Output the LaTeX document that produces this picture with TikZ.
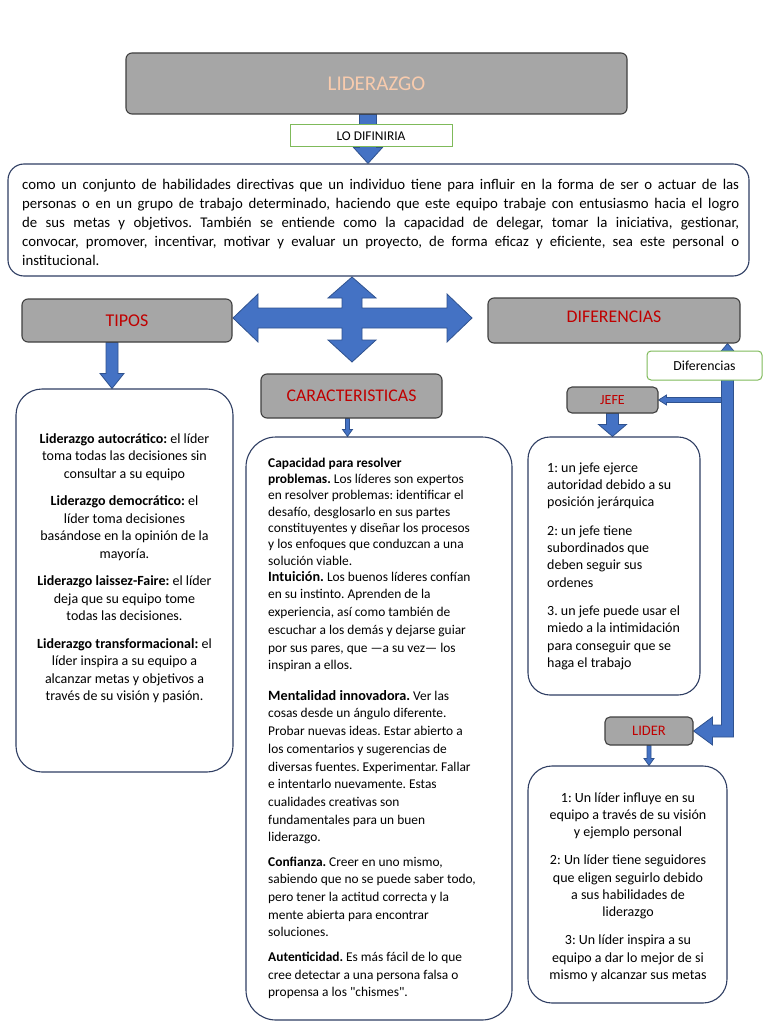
\documentclass[tikz,border=0pt]{standalone}
\usepackage{fontspec}
\setmainfont{Carlito}
\newfontfamily\plainquote{Carlito}[Ligatures=TeXOff]
\usetikzlibrary{calc}

\definecolor{boxgray}{HTML}{A6A6A6}
\definecolor{boxedge}{HTML}{404040}
\definecolor{arrowblue}{HTML}{4472C4}
\definecolor{arrowedge}{HTML}{2F528F}
\definecolor{labelred}{HTML}{C00000}
\definecolor{titlepeach}{HTML}{F8CBAD}
\definecolor{tagedge}{HTML}{7FBA5A}
\definecolor{panelnavy}{HTML}{2F3E63}

\pgfdeclarelayer{back}
\pgfsetlayers{back,main}

\newcommand{\fsz}[2]{\fontsize{#1}{#2}\selectfont}
% block arrows: start, end, half shaft, half head, head length
\newcommand{\blockdown}[5]{%
  \filldraw[blockarrow] let \p1=#1, \p2=#2 in
    (\x1-#3,\y1) -- (\x1-#3,\y2+#5) -- (\x1-#4,\y2+#5) -- (\x1,\y2)
    -- (\x1+#4,\y2+#5) -- (\x1+#3,\y2+#5) -- (\x1+#3,\y1) -- cycle;}
\newcommand{\blockleft}[5]{%
  \filldraw[blockarrow] let \p1=#1, \p2=#2 in
    (\x1,\y1+#3) -- (\x2+#5,\y1+#3) -- (\x2+#5,\y1+#4) -- (\x2,\y1)
    -- (\x2+#5,\y1-#4) -- (\x2+#5,\y1-#3) -- (\x1,\y1-#3) -- cycle;}

\begin{document}
\frenchspacing
\begin{tikzpicture}[x=1pt,y=-1pt,
  graybox/.style={draw=boxedge, fill=boxgray, line width=1.1pt, rounded corners=6pt, inner sep=0pt},
  tagbox/.style={draw=tagedge, fill=white, line width=1pt, inner sep=0pt},
  panel/.style={draw=panelnavy, fill=white, line width=1.1pt, inner sep=0pt},
  blockarrow/.style={fill=arrowblue, draw=arrowedge, line width=0.8pt},
  boxtext/.style={inner sep=0pt, font=\fsz{14}{17.5}},
]
\useasboundingbox (0,0) rectangle (768,1024);

% headings
\node[graybox, minimum width=501pt, minimum height=61pt, font=\fsz{21}{24}, text=titlepeach] (title) at (376.5,83.5) {LIDERAZGO};
\node[tagbox, minimum width=162pt, minimum height=22pt, font=\fsz{13.4}{15}] (defines) at (371,136) {LO DIFINIRIA};
\node[graybox, minimum width=210pt, minimum height=43pt, font=\fsz{18}{20}, text=labelred] (tipos) at (127,320.5) {TIPOS};
\node[graybox, minimum width=252pt, minimum height=45pt, font=\fsz{17.8}{20}, text=labelred, text depth=8pt] (diff) at (614,320.5) {DIFERENCIAS};
\node[graybox, minimum width=181pt, minimum height=44pt, font=\fsz{17.8}{20}, text=labelred] (car) at (351.5,396) {CARACTERISTICAS};
\node[tagbox, rounded corners=4pt, minimum width=115pt, minimum height=29pt, font=\fsz{13.8}{16}] (diffTag) at (704.5,365.5) {Diferencias};
\node[graybox, rounded corners=5pt, minimum width=91pt, minimum height=26pt, font=\fsz{14}{16}, text=labelred] (jefe) at (612.5,400) {JEFE};
\node[graybox, rounded corners=5pt, minimum width=88pt, minimum height=28pt, font=\fsz{14.5}{16}, text=labelred] (lider) at (649,731) {LIDER};

% panels
\node[panel, rounded corners=16pt, minimum width=741pt, minimum height=112pt] (meaning) at (378.5,220) {};
\node[panel, rounded corners=26pt, minimum width=217pt, minimum height=383pt] (tiposPanel) at (124.5,580.5) {};
\node[panel, rounded corners=30pt, minimum width=266pt, minimum height=583pt] (carPanel) at (379,728.5) {};
\node[panel, rounded corners=22pt, minimum width=172pt, minimum height=258pt] (jefePanel) at (614,566) {};
\node[panel, rounded corners=24pt, minimum width=199pt, minimum height=237pt] (liderPanel) at (627.5,884.5) {};

% texts
\node[boxtext, anchor=north west, text width=717pt, align=justify, font=\fsz{14.8}{19}] (meaningText) at (22,175.7) {\strut como un conjunto de habilidades directivas que un individuo tiene para influir en la forma de ser o actuar de las\linebreak personas o en un grupo de trabajo determinado, haciendo que este equipo trabaje con entusiasmo hacia el logro\linebreak de sus metas y objetivos. También se entiende como la capacidad de delegar, tomar la iniciativa, gestionar,\linebreak convocar, promover, incentivar, motivar y evaluar un proyecto, de forma eficaz y eficiente, sea este personal o\linebreak institucional.};

\node[boxtext, anchor=north, align=center] (tiposText) at (124.5,431) {\strut\textbf{Liderazgo autocrático:} el líder\\ toma todas las decisiones sin\\ consultar a su equipo\\[10pt]
  \textbf{Liderazgo democrático:} el\\ líder toma decisiones\\ basándose en la opinión de la\\ mayoría.\\[10pt]
  \textbf{Liderazgo laissez-Faire:} el líder\\ deja que su equipo tome\\ todas las decisiones.\\[10pt]
  \textbf{Liderazgo transformacional:} el\\ líder inspira a su equipo a\\ alcanzar metas y objetivos a\\ través de su visión y pasión.};

\node[boxtext, anchor=north west, align=left, font=\fsz{13.4}{16.3}] (carTextA) at (268,455.6) {\strut\textbf{Capacidad para resolver}\\ \textbf{problemas.} Los líderes son expertos\\ en resolver problemas: identificar el\\ desafío, desglosarlo en sus partes\\ constituyentes y diseñar los procesos\\ y los enfoques que conduzcan a una\\ solución viable.};
\node[boxtext, anchor=north west, align=left, font=\fsz{13.4}{17.7}] (carTextB) at (268,568.6) {\strut{\fsz{14.2}{17.7}\textbf{Intuición.}} Los buenos líderes confían\\ en su instinto. Aprenden de la\\ experiencia, así como también de\\ escuchar a los demás y dejarse guiar\\ por sus pares, que —a su vez— los\\ inspiran a ellos.\\[12.8pt]
  {\fsz{14.2}{17.7}\textbf{Mentalidad innovadora.}} Ver las\\ cosas desde un ángulo diferente.\\ Probar nuevas ideas. Estar abierto a\\ los comentarios y sugerencias de\\ diversas fuentes. Experimentar. Fallar\\ e intentarlo nuevamente. Estas\\ cualidades creativas son\\ fundamentales para un buen\\ liderazgo.\\[6.5pt]
  \textbf{Confianza.} Creer en uno mismo,\\ sabiendo que no se puede saber todo,\\ pero tener la actitud correcta y la\\ mente abierta para encontrar\\ soluciones.\\[7pt]
  \textbf{Autenticidad.} Es más fácil de lo que\\ cree detectar a una persona falsa o\\ propensa a los {\plainquote"}chismes{\plainquote"}.};

\node[boxtext, anchor=north west, align=left, font=\fsz{14}{17.3}] (jefeText) at (547,460) {\strut 1: un jefe ejerce\\ autoridad debido a su\\ posición jerárquica\\[11pt]
  2: un jefe tiene\\ subordinados que\\ deben seguir sus\\ ordenes\\[11pt]
  3. un jefe puede usar el\\ miedo a la intimidación\\ para conseguir que se\\ haga el trabajo};

\node[boxtext, anchor=north, align=center, font=\fsz{14}{17.3}] (liderText) at (628,790) {\strut 1: Un líder influye en su\\ equipo a través de su visión\\ y ejemplo personal\\[10.7pt]
  2: Un líder tiene seguidores\\ que eligen seguirlo debido\\ a sus habilidades de\\ liderazgo\\[10.7pt]
  3: Un líder inspira a su\\ equipo a dar lo mejor de si\\ mismo y alcanzar sus metas};

% arrows
\coordinate (hub) at (352,318);
\coordinate (barTop) at ($(diff.south east)+(-13,0)$);
\coordinate (jefeTap) at ($(barTop |- jefe.east)+(-6,0)$);
\begin{pgfonlayer}{back}
  \fill[white] (0,0) rectangle (768,1024);
  \blockdown{([xshift=-8.5pt]title.south)}{(meaning.north)}{8.5}{14.5}{16}
  \blockdown{([xshift=-15pt]tipos.south)}{(tiposPanel.north)}{6}{12}{15}
  \blockdown{([xshift=-4pt]car.south)}{(carPanel.north)}{2}{5}{7}
  \blockdown{(jefe.south)}{(jefePanel.north)}{6}{14}{12}
  \blockdown{(lider.south)}{(liderPanel.north)}{2}{5}{7}
  \blockleft{(jefeTap)}{(jefe.east)}{2.5}{5}{8}
  % bar from DIFERENCIAS round to LIDER
  \filldraw[blockarrow] let \p1=(barTop), \p2=(lider.east) in
    (\x1,\y1) -- (\x1+11,\y1-13) -- (\x1+6,\y1-13) -- (\x1+6,\y2-6) -- (\x2+19,\y2-6)
    -- (\x2+19,\y2-14) -- (\x2,\y2) -- (\x2+19,\y2+14) -- (\x2+19,\y2+6)
    -- (\x1-6,\y2+6) -- (\x1-6,\y1-13) -- (\x1-11,\y1-13) -- cycle;
  % four-way arrow
  \filldraw[blockarrow, shift={(hub)}] (0,-41) -- (24,-20) -- (10,-20) -- (10,-10) -- (95,-10)
    -- (95,-24) -- (120,0) -- (95,24) -- (95,10) -- (10,10) -- (10,22) -- (24,22) -- (0,44)
    -- (-24,22) -- (-10,22) -- (-10,10) -- (-94,10) -- (-94,24) -- (-119,0) -- (-94,-24)
    -- (-94,-10) -- (-10,-10) -- (-10,-20) -- (-24,-20) -- cycle;
\end{pgfonlayer}
\end{tikzpicture}
\end{document}
